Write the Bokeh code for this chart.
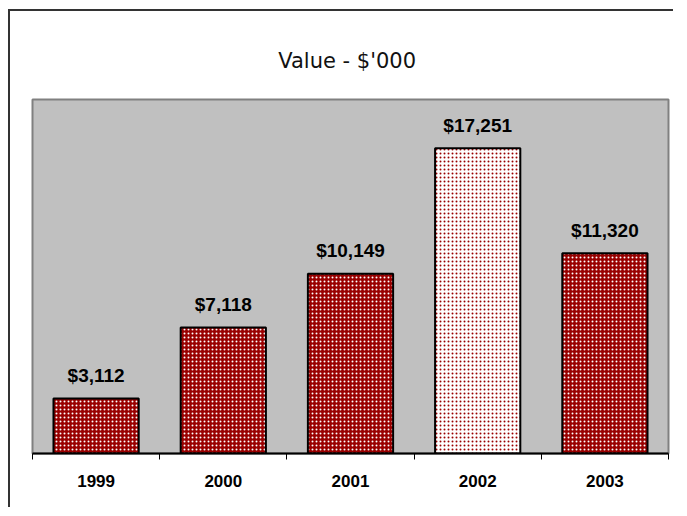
from bokeh.plotting import figure
from bokeh.models import ColumnDataSource, FixedTicker, Range1d, Title
from bokeh.core.properties import value
from bokeh.embed import file_html
from bokeh.resources import INLINE

years = ["1999", "2000", "2001", "2002", "2003"]
values = [3112, 7118, 10149, 17251, 11320]
highlight_year = "2002"
title_text = "Value -  $'000"

pos = [i + 0.5 for i in range(len(years))]
labels = ["${:,}".format(v) for v in values]

src_norm = ColumnDataSource(dict(
    x=[p for p, y in zip(pos, years) if y != highlight_year],
    top=[v for v, y in zip(values, years) if y != highlight_year],
))
src_hi = ColumnDataSource(dict(
    x=[p for p, y in zip(pos, years) if y == highlight_year],
    top=[v for v, y in zip(values, years) if y == highlight_year],
))
src_lab = ColumnDataSource(dict(x=pos, y=values, text=labels))

p = figure(width=665, height=498, output_backend="svg", toolbar_location=None,
           x_range=Range1d(0, len(years)), y_range=Range1d(0, 20000),
           min_border_left=22, min_border_right=7, min_border_top=88,
           min_border_bottom=56)
p.styles = {"border-left": "2px solid #333333", "border-top": "2px solid #333333",
            "margin-left": "8px", "margin-top": "9px"}

p.add_layout(Title(text=title_text, align="center", text_font="DejaVu Sans",
                   text_font_size="21px", text_font_style="normal",
                   text_color="#111111", standoff=54), "above")

p.background_fill_color = "#C0C0C0"
p.border_fill_color = "white"
p.outline_line_color = "#808080"
p.outline_line_width = 2
p.xgrid.visible = False
p.ygrid.visible = False
p.yaxis.visible = False

p.vbar(x="x", top="top", bottom=0, width=0.67, source=src_norm,
       fill_color="#990000", line_color="black", line_width=2,
       hatch_pattern="dot", hatch_color="white", hatch_scale=4, hatch_weight=1.2)
p.vbar(x="x", top="top", bottom=0, width=0.67, source=src_hi,
       fill_color="white", line_color="black", line_width=2,
       hatch_pattern="dot", hatch_color="#990000", hatch_scale=4, hatch_weight=4.6)

p.text(x="x", y="y", text="text", source=src_lab, text_align="center",
       text_baseline="alphabetic", y_offset=-23,
       text_font=value("Liberation Sans"), text_font_size="19px",
       text_font_style="bold", text_color="black")

ax = p.xaxis[0]
ax.ticker = FixedTicker(ticks=pos, minor_ticks=list(range(len(years) + 1)))
ax.major_label_overrides = {p_: y for p_, y in zip(pos, years)}
ax.axis_line_color = "black"
ax.axis_line_width = 2
ax.major_tick_line_color = None
ax.major_tick_out = 0
ax.major_tick_in = 0
ax.minor_tick_line_color = "black"
ax.minor_tick_line_width = 1
ax.minor_tick_out = 6
ax.minor_tick_in = 0
ax.major_label_standoff = 15
ax.major_label_text_font = "Liberation Sans"
ax.major_label_text_font_size = "17px"
ax.major_label_text_font_style = "bold"
ax.major_label_text_color = "black"

open("out.html", "w").write(file_html(p, INLINE))
